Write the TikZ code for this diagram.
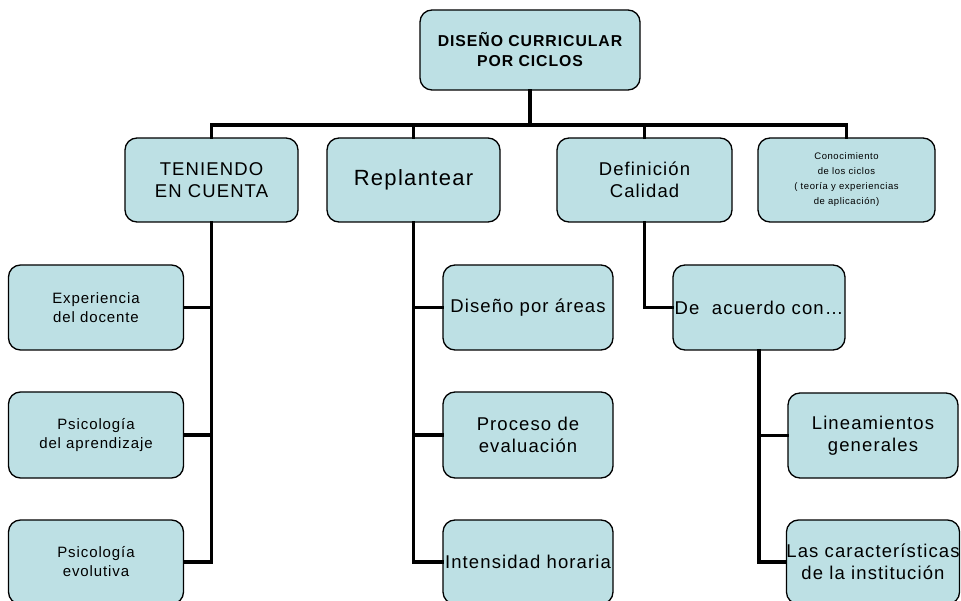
\documentclass[tikz,border=0pt]{standalone}
\usepackage{fontspec}
\setmainfont{Liberation Sans}[LetterSpace=6]
\definecolor{boxfill}{RGB}{189,224,228}
\tikzset{
  box/.style={draw=black, fill=boxfill, rounded corners=12pt, line width=1.3pt,
    inner sep=0pt, align=center, text=black},
  link/.style={line width=3.3pt, line cap=rect},
  fbig/.style={font=\fontsize{18.5}{22.5}\selectfont},
  fmid/.style={font=\fontsize{15}{19}\selectfont},
}
\begin{document}
\begin{tikzpicture}[x=1pt,y=-1pt]
\clip (0,0) rectangle (961,601);
\useasboundingbox (0,0) rectangle (961,601);
% nodes
\node[box, minimum width=220pt, minimum height=80pt, font=\bfseries\fontsize{15.8}{20}\selectfont] (top) at (530,50) {\raisebox{-2pt}{\parbox{200pt}{\centering DISEÑO CURRICULAR\\ POR CICLOS}}};
\node[box, fbig, minimum width=173pt, minimum height=84pt] (ten) at (211.5,180) {TENIENDO\\EN CUENTA};
\node[box, minimum width=173pt, minimum height=84pt, font=\fontsize{22}{26}\selectfont] (rep) at (413.5,180) {Replantear};
\node[box, fbig, minimum width=175pt, minimum height=84pt] (def) at (644.5,180) {Definición\\Calidad};
\node[box, minimum width=177pt, minimum height=84pt, font=\fontsize{9.5}{15}\selectfont] (con) at (846.5,180) {Conocimiento\\de los ciclos\\( teoría y experiencias\\de aplicación)};
\node[box, fmid, minimum width=175pt, minimum height=85pt] (exp) at (96,307.5) {Experiencia\\del docente};
\node[box, fmid, minimum width=175pt, minimum height=86pt] (pa) at (96,435) {Psicología\\del aprendizaje};
\node[box, fmid, minimum width=175pt, minimum height=84pt] (pe) at (96,562) {Psicología\\evolutiva};
\node[box, fbig, minimum width=170pt, minimum height=85pt] (dpa) at (528,307.5) {Diseño por áreas};
\node[box, fbig, minimum width=170pt, minimum height=86pt] (pde) at (528,435) {Proceso de\\evaluación};
\node[box, fbig, minimum width=170pt, minimum height=84pt] (ih) at (528,562) {Intensidad horaria};
\node[box, fbig, minimum width=172pt, minimum height=85pt] (dea) at (759,307.5) {De~ acuerdo con…};
\node[box, fbig, minimum width=170pt, minimum height=85pt] (lg) at (873,435.5) {Lineamientos\\generales};
\node[box, fbig, minimum width=170pt, minimum height=84pt] (lc) at (873,562) {Las características\\de la institución};
% connectors
\coordinate (j) at (530,125);
\draw[link] (top.south) -- (j);
\draw[link] (j) -| (ten.north);
\draw[link] (j) -| (rep.north);
\draw[link] (j) -| (def.north);
\draw[link] (j) -| (con.north);
\draw[link] (ten.south) |- (exp.east);
\draw[link] (ten.south) |- (pa.east);
\draw[link] (ten.south) |- (pe.east);
\draw[link] (rep.south) |- (dpa.west);
\draw[link] (rep.south) |- (pde.west);
\draw[link] (rep.south) |- (ih.west);
\draw[link] (def.south) |- (dea.west);
\draw[link] (dea.south) |- (lg.west);
\draw[link] (dea.south) |- (lc.west);
\end{tikzpicture}
\end{document}
